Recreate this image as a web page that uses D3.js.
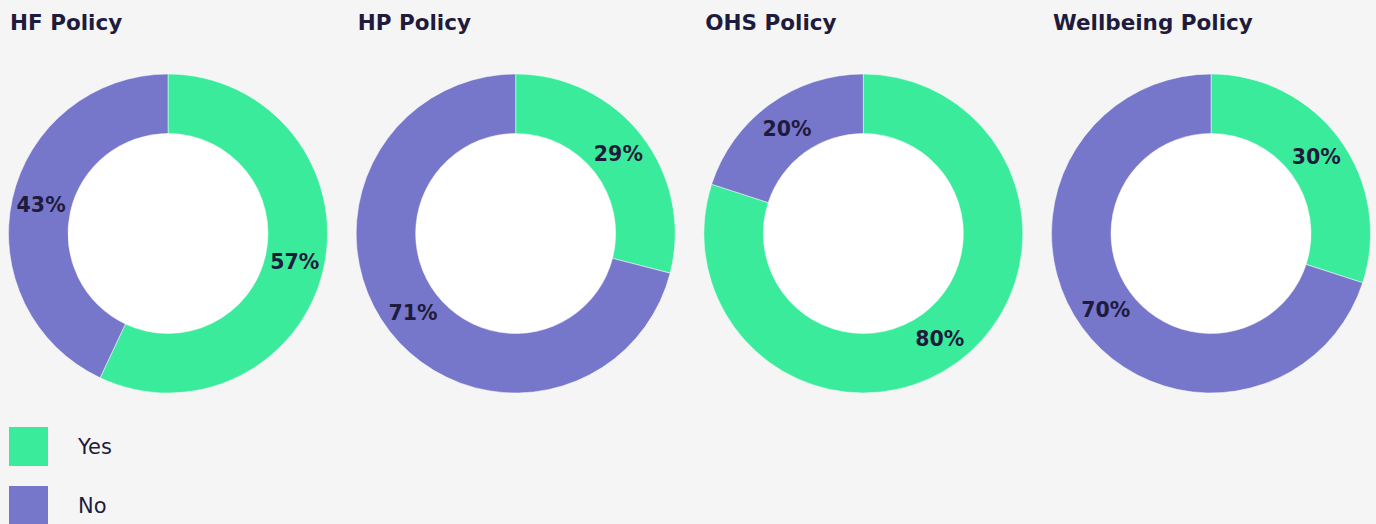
<!DOCTYPE html>
<html><head><meta charset="utf-8">
<script src="https://cdn.jsdelivr.net/npm/d3@7"></script>
<style>
html,body{margin:0;padding:0;background:#f5f5f5;}
svg{display:block;}
</style></head>
<body>
<svg id="chart" width="1376" height="524"></svg>
<script>
const titles = ["HF Policy", "HP Policy", "OHS Policy", "Wellbeing Policy"];
const categories = ["Yes", "No"];
const yesValues = [57, 29, 80, 30];
const noValues = [43, 71, 20, 70];

const colors = {Yes: "#3aeb9c", No: "#7676cb"};
const textColor = "#1f1b3d";
const W = 1376, H = 524;
const svg = d3.select("#chart");
svg.append("rect").attr("width", W).attr("height", H).attr("fill", "#f5f5f5");

const colX = d3.scalePoint().domain(titles).range([10, 1053]);
const outerR = 159.5, innerR = 100;
const cy = 233.5;

const pie = d3.pie().sort(null).value(d => d.value);
const arc = d3.arc().innerRadius(innerR).outerRadius(outerR);
const labelArc = d3.arc().innerRadius(innerR + 30).outerRadius(innerR + 30);

titles.forEach((t, i) => {
  const x0 = colX(t);
  svg.append("text").attr("x", x0).attr("y", 30)
    .attr("font-family", "DejaVu Sans, sans-serif").attr("font-weight", "bold")
    .attr("font-size", 21.5).attr("fill", textColor).text(t);
  const g = svg.append("g").attr("transform", `translate(${x0 + 158},${cy})`);
  const data = [{cat: "Yes", value: yesValues[i]}, {cat: "No", value: noValues[i]}];
  const arcs = pie(data);
  g.append("circle").attr("r", innerR).attr("fill", "#ffffff");
  g.selectAll("path").data(arcs).join("path")
    .attr("d", arc).attr("fill", d => colors[d.data.cat])
    .attr("stroke", "#ffffff").attr("stroke-width", 0.5);
  g.selectAll("text.lbl").data(arcs).join("text").attr("class", "lbl")
    .attr("transform", d => `translate(${labelArc.centroid(d)})`)
    .attr("text-anchor", "middle").attr("dy", "0.35em")
    .attr("font-family", "DejaVu Sans, sans-serif").attr("font-weight", "bold")
    .attr("font-size", 20.5).attr("fill", textColor)
    .text(d => d.data.value + "%");
});

const legY = d3.scalePoint().domain(categories).range([427, 486]);
categories.forEach(c => {
  svg.append("rect").attr("x", 9).attr("y", legY(c)).attr("width", 39).attr("height", 39)
    .attr("fill", colors[c]);
  svg.append("text").attr("x", 78).attr("y", legY(c) + 19.5).attr("dy", "0.35em")
    .attr("font-family", "DejaVu Sans, sans-serif").attr("font-size", 21)
    .attr("fill", textColor).text(c);
});
</script>
</body></html>
